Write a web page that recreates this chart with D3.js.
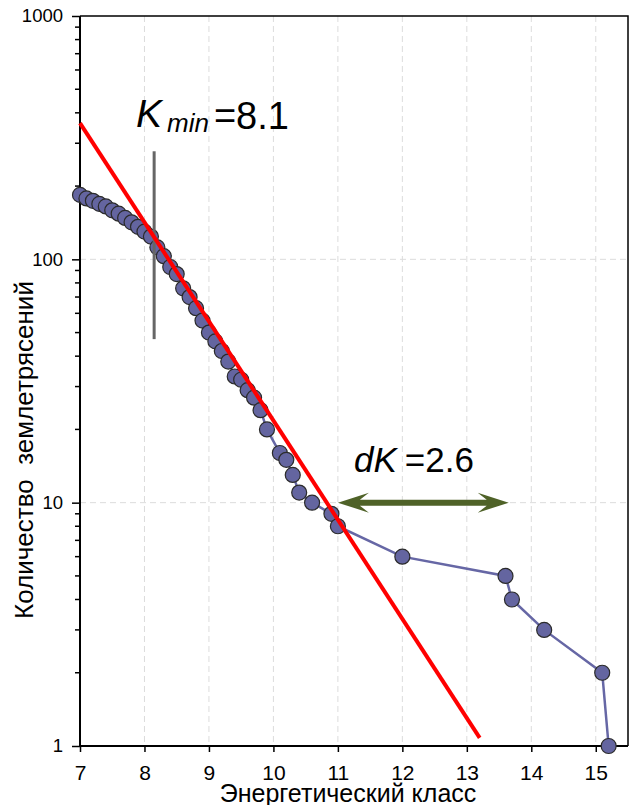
<!DOCTYPE html>
<html>
<head>
<meta charset="utf-8">
<script src="https://cdn.jsdelivr.net/npm/d3@7"></script>
<style>
  body { margin: 0; background: #fff; }
  svg text { font-family: 'Liberation Sans', Arial, sans-serif; fill: #000; }
</style>
</head>
<body>
<svg id="chart" width="630" height="805"></svg>
<script>
// energy class K and cumulative number of earthquakes N
const energyClass = [7.0, 7.1, 7.2, 7.3, 7.4, 7.5, 7.6, 7.7, 7.8, 7.9,
  8.0, 8.1, 8.2, 8.3, 8.4, 8.5, 8.6, 8.7, 8.8, 8.9,
  9.0, 9.1, 9.2, 9.3, 9.4, 9.5, 9.6, 9.7, 9.8, 9.9,
  10.1, 10.2, 10.3, 10.4, 10.6, 10.9, 11.0, 12.0, 13.6, 13.7, 14.2, 15.1, 15.2];
const quakeCount = [184, 178, 174, 169, 165, 159, 154, 148, 142, 136,
  130, 124, 112, 103, 93, 87, 76, 70, 63, 56,
  50, 46, 42, 38, 33, 32, 29, 27, 24, 20,
  16, 15, 13, 11, 10, 9, 8, 6, 5, 4, 3, 2, 1];

// fitted line (two ends), Kmin marker, dK arrow
const fitK = [7.0, 13.2];
const fitN = [363, 1.08];
const kminK = 8.15;
const kminN = [47, 278];
const dkFrom = 11.0, dkTo = 13.65, dkLevel = 10;

const xTicks = [7, 8, 9, 10, 11, 12, 13, 14, 15];
const yTicks = [1, 10, 100, 1000];

const margin = { top: 16, right: 2, bottom: 59, left: 80 };
const w = 630, h = 805;

const svg = d3.select('#chart');

const xScale = d3.scaleLinear()
  .domain([7, 15.5])
  .range([margin.left, w - margin.right]);
const yScale = d3.scaleLog()
  .domain([1, 1000])
  .range([h - margin.bottom, margin.top]);

const x0 = xScale.range()[0], x1 = xScale.range()[1];
const yB = yScale.range()[0], yT = yScale.range()[1];

// grid
const grid = svg.append('g').attr('class', 'grid')
  .attr('stroke', '#dcdcdc').attr('stroke-width', 1).attr('stroke-dasharray', '6,4');
grid.selectAll('.gx')
  .data(xTicks.slice(1))
  .enter().append('line')
  .attr('x1', d => xScale(d)).attr('x2', d => xScale(d))
  .attr('y1', yT).attr('y2', yB);
grid.selectAll('.gy')
  .data([10, 100])
  .enter().append('line')
  .attr('x1', x0).attr('x2', x1)
  .attr('y1', d => yScale(d)).attr('y2', d => yScale(d));

// frame top / right
svg.append('path')
  .attr('d', `M${x0},${yT}H${x1}V${yB}`)
  .attr('fill', 'none').attr('stroke', '#000').attr('stroke-width', 1.5);

// x axis
const xAxis = svg.append('g')
  .attr('transform', `translate(0, ${yB})`)
  .call(d3.axisBottom(xScale).tickValues(xTicks).tickSize(6).tickPadding(13).tickFormat(d3.format('d')));
xAxis.select('.domain').attr('stroke', '#000').attr('stroke-width', 2)
  .attr('d', `M${x0},0H${x1}`);
xAxis.selectAll('.tick line').attr('stroke', '#000').attr('stroke-width', 1.5);
xAxis.selectAll('.tick text').style('font-size', '21px').attr('dy', '0.71em');

// y axis with minor ticks
const minor = [];
[1, 10, 100].forEach(dec => { for (let m = 2; m <= 9; m++) minor.push(dec * m); });
const yAxis = svg.append('g')
  .attr('transform', `translate(${x0}, 0)`)
  .call(d3.axisLeft(yScale).tickValues(yTicks).tickSize(8).tickFormat(d3.format('d')));
yAxis.select('.domain').attr('stroke', '#000').attr('stroke-width', 2)
  .attr('d', `M0,${yB}V${yT}`);
yAxis.selectAll('.tick line').attr('stroke', '#000').attr('stroke-width', 1.5);
yAxis.selectAll('.tick text')
  .attr('x', -17)
  .attr('text-anchor', 'end')
  .style('font-size', '18.5px');
yAxis.selectAll('.minor')
  .data(minor)
  .enter().append('line')
  .attr('class', 'minor')
  .attr('x1', -5).attr('x2', 0)
  .attr('y1', d => yScale(d)).attr('y2', d => yScale(d))
  .attr('stroke', '#000').attr('stroke-width', 1.5);

// axis titles
svg.append('text')
  .attr('x', 348).attr('y', 802)
  .attr('text-anchor', 'middle')
  .style('font-size', '25px')
  .text('Энергетический класс');
svg.append('text')
  .attr('transform', 'translate(33, 450) rotate(-90)')
  .attr('text-anchor', 'middle')
  .style('font-size', '26px')
  .style('white-space', 'pre')
  .attr('xml:space', 'preserve')
  .text('Количество  землетрясений');

// data line + points
const pts = energyClass.map((k, i) => ({ k, n: quakeCount[i] }));
svg.append('path')
  .datum(pts)
  .attr('fill', 'none')
  .attr('stroke', '#6667a5')
  .attr('stroke-width', 2.5)
  .attr('d', d3.line().x(d => xScale(d.k)).y(d => yScale(d.n)));
svg.selectAll('.dot')
  .data(pts)
  .enter().append('circle')
  .attr('class', 'dot')
  .attr('r', 7.5)
  .attr('cx', d => xScale(d.k))
  .attr('cy', d => yScale(d.n))
  .attr('fill', '#6465a0')
  .attr('stroke', '#2b2b2b')
  .attr('stroke-width', 1.2);

// Kmin marker
svg.append('line')
  .attr('x1', xScale(kminK)).attr('x2', xScale(kminK))
  .attr('y1', yScale(kminN[0])).attr('y2', yScale(kminN[1]))
  .attr('stroke', '#666').attr('stroke-width', 3);

// fit line
svg.append('line')
  .attr('x1', xScale(fitK[0])).attr('y1', yScale(fitN[0]))
  .attr('x2', xScale(fitK[1])).attr('y2', yScale(fitN[1]))
  .attr('stroke', '#ff0000').attr('stroke-width', 4);

// dK arrow (double headed)
const ax0 = xScale(dkFrom), ax1 = xScale(dkTo), ay = yScale(dkLevel);
const hl = 31, hw = 10, notch = 22, sw = 3;
svg.append('path')
  .attr('d', `M${ax0},${ay}` +
    `L${ax0 + hl},${ay - hw}L${ax0 + notch},${ay - sw}` +
    `L${ax1 - notch},${ay - sw}L${ax1 - hl},${ay - hw}L${ax1},${ay}` +
    `L${ax1 - hl},${ay + hw}L${ax1 - notch},${ay + sw}` +
    `L${ax0 + notch},${ay + sw}L${ax0 + hl},${ay + hw}Z`)
  .attr('fill', '#4f6228');

// annotations
const kt = svg.append('text').attr('x', 136).attr('y', 127);
kt.append('tspan').style('font-size', '39px').style('font-style', 'italic').text('K');
kt.append('tspan').attr('dx', 5).attr('dy', 5).style('font-size', '26px').style('font-style', 'italic').text('min');
kt.append('tspan').attr('dx', 5).attr('dy', -3).style('font-size', '38px').text('=8.1');

const dt = svg.append('text').attr('x', 354).attr('y', 472);
dt.append('tspan').style('font-size', '35px').style('font-style', 'italic').text('dK');
dt.append('tspan').attr('dx', 8).style('font-size', '35px').text('=2.6');
</script>
</body>
</html>
